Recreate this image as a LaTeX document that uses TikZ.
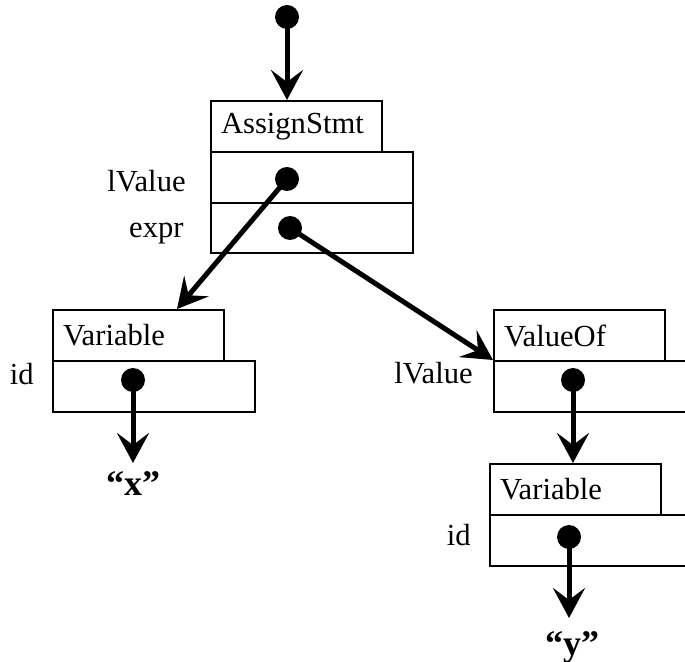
\documentclass[tikz,border=0pt]{standalone}
\usepackage{fontspec}
\setmainfont{Liberation Serif}
\usetikzlibrary{arrows.meta}
\begin{document}
\begin{tikzpicture}[x=0.5pt,y=-0.5pt,
  font=\fontsize{15.3}{18}\selectfont,
  title/.style={draw, line width=1pt, anchor=north west, minimum width=85.5pt,
    minimum height=25.5pt, inner xsep=5pt, inner ysep=0pt, text width=75.5pt, align=left},
  field/.style={draw, line width=1pt, anchor=north west, minimum width=101pt,
    minimum height=25.5pt, inner sep=0pt},
  dot/.style={circle, fill=black, inner sep=0pt, minimum size=12pt},
  lbl/.style={anchor=base east, inner sep=0pt},
  str/.style={anchor=base, inner sep=0pt, font=\fontsize{18}{21}\selectfont\bfseries},
  ptr/.style={line width=2.5pt, -{Stealth[length=15pt, width=16pt, inset=6pt]}}]
\useasboundingbox (0,0) rectangle (685,662);
\clip (0,0) rectangle (685,662);

% AssignStmt record
\node[title] (as) at (210,100) {AssignStmt};
\node[field] (aslv) at (210,151) {};
\node[field, minimum height=25pt] (asex) at (210,202) {};
\node[lbl] (aslvl) at (186,192) {lValue};
\node[lbl] (asexl) at (184,238) {expr};

% Variable record (left)
\node[title] (varl) at (52,309) {Variable};
\node[field] (varlid) at (52,360) {};
\node[lbl] (varlidl) at (34,385) {id};

% ValueOf record
\node[title] (vof) at (493,309) {ValueOf};
\node[field] (voflv) at (493,360) {};
\node[lbl] (voflvl) at (473,384) {lValue};

% Variable record (right)
\node[title] (varr) at (489,463) {Variable};
\node[field] (varrid) at (489,514) {};
\node[lbl] (varridl) at (471,545) {id};

% string values
\node[str] (sx) at (133,495) {“x”};
\node[str] (sy) at (572,655) {“y”};

% pointer origins
\node[dot] (root) at (287,17) {};
\node[dot] (d1) at (287,179) {};
\node[dot] (d2) at (290,228) {};
\node[dot] (d3) at (133,380) {};
\node[dot] (d4) at (573,380) {};
\node[dot] (d5) at (569,537) {};

\coordinate (t1) at (177,309);
\coordinate (tx) at (133,463);
\coordinate (ty) at (569,618);

% pointers
\draw[ptr] (root.center) -- (root.center |- as.north);
\draw[ptr] (d1.center) -- (t1);
\draw[ptr] (d2.center) -- (voflv.north west);
\draw[ptr] (d3.center) -- (tx);
\draw[ptr] (d4.center) -- (d4.center |- varr.north);
\draw[ptr] (d5.center) -- (ty);
\end{tikzpicture}
\end{document}
